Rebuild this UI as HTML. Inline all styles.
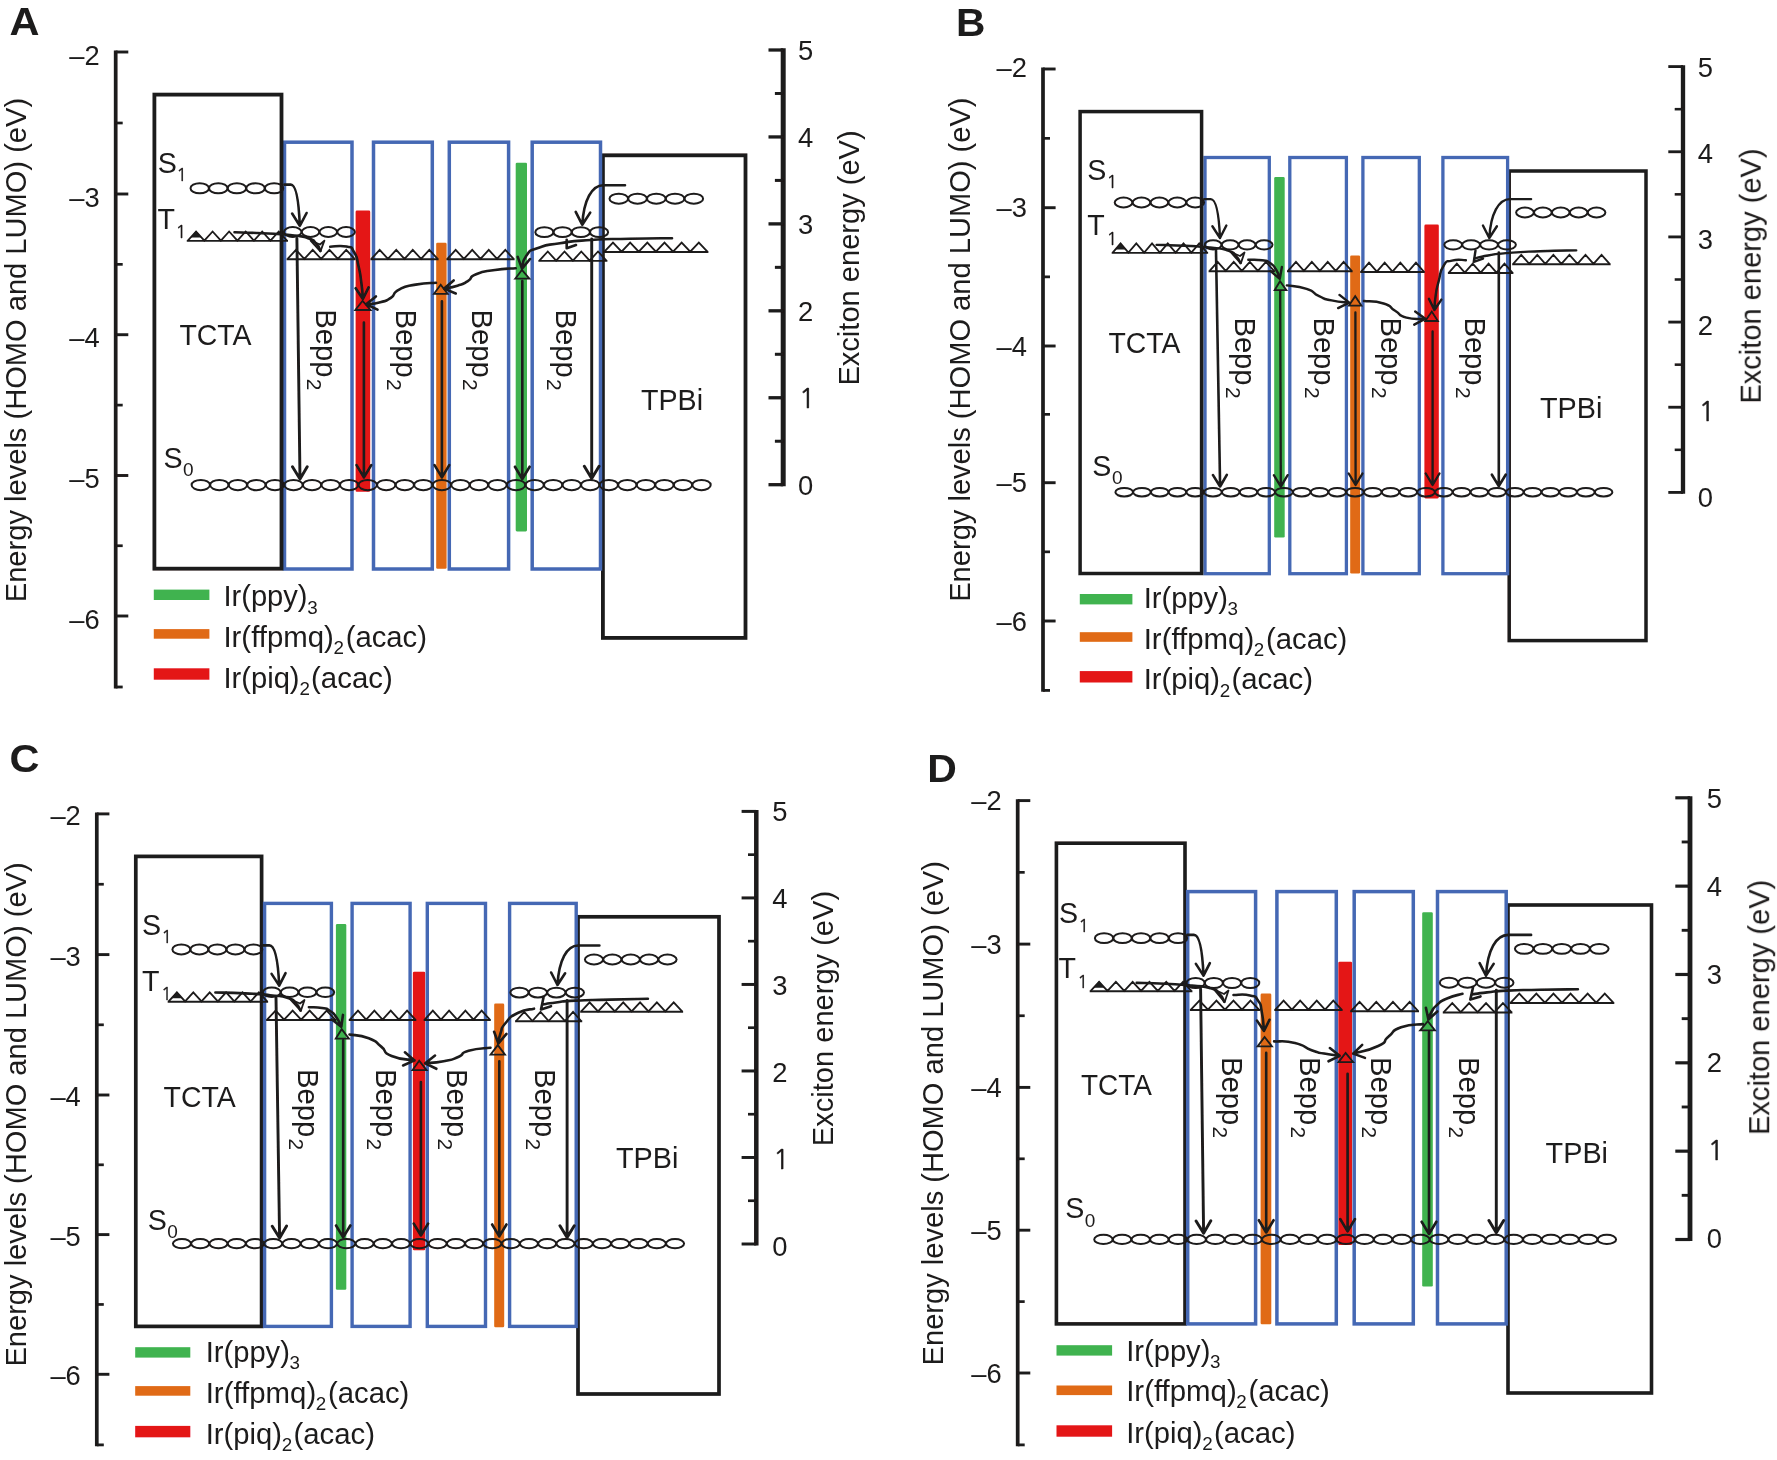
<!DOCTYPE html>
<html lang="en"><head><meta charset="utf-8"><title>Energy level diagrams</title>
<style>
html,body{margin:0;padding:0;background:#fff;}
svg{display:block;font-family:"Liberation Sans",Arial,Helvetica,sans-serif;fill:#1c1a1a;}
svg path,svg ellipse{fill:none;stroke:#1c1a1a;}
</style></head>
<body>
<svg width="1777" height="1460" viewBox="0 0 1777 1460">
<defs><filter id="soft" x="0" y="0" width="1777" height="1460" filterUnits="userSpaceOnUse"><feGaussianBlur stdDeviation="0.45"/></filter></defs>
<rect x="0" y="0" width="1777" height="1460" fill="#ffffff"/>
<g filter="url(#soft)">
<text x="9.6" y="35.2" font-size="38" font-weight="bold" textLength="30" lengthAdjust="spacingAndGlyphs">A</text>
<rect x="355.6" y="210.6" width="14.6" height="281.2" fill="#e41217" rx="1.3"/>
<rect x="436.2" y="242.8" width="10.4" height="326" fill="#e06a15" rx="1.3"/>
<rect x="515.7" y="162.8" width="11.3" height="368.6" fill="#3fb34f" rx="1.3"/>
<rect x="284.5" y="142.2" width="67.5" height="426.8" fill="none" stroke="#4468b4" stroke-width="3.5"/>
<rect x="373.5" y="142.2" width="58.8" height="426.8" fill="none" stroke="#4468b4" stroke-width="3.5"/>
<rect x="449.3" y="142.2" width="59.3" height="426.8" fill="none" stroke="#4468b4" stroke-width="3.5"/>
<rect x="154.4" y="94.6" width="127.1" height="474.1" fill="none" stroke="#1c1a1a" stroke-width="3.8"/>
<rect x="602.9" y="155.3" width="142.6" height="482.6" fill="none" stroke="#1c1a1a" stroke-width="3.8"/>
<rect x="532.2" y="142.2" width="68.3" height="426.8" fill="none" stroke="#4468b4" stroke-width="3.5"/>
<line x1="115.7" y1="50.6" x2="115.7" y2="688.4" stroke="#1c1a1a" stroke-width="3.7" stroke-linecap="butt"/>
<line x1="115.7" y1="52" x2="128.3" y2="52" stroke="#1c1a1a" stroke-width="2.9" stroke-linecap="butt"/>
<line x1="115.7" y1="194" x2="128.3" y2="194" stroke="#1c1a1a" stroke-width="2.9" stroke-linecap="butt"/>
<line x1="115.7" y1="334.7" x2="128.3" y2="334.7" stroke="#1c1a1a" stroke-width="2.9" stroke-linecap="butt"/>
<line x1="115.7" y1="475.5" x2="128.3" y2="475.5" stroke="#1c1a1a" stroke-width="2.9" stroke-linecap="butt"/>
<line x1="115.7" y1="616" x2="128.3" y2="616" stroke="#1c1a1a" stroke-width="2.9" stroke-linecap="butt"/>
<line x1="115.7" y1="123" x2="122.7" y2="123" stroke="#1c1a1a" stroke-width="2.7" stroke-linecap="butt"/>
<line x1="115.7" y1="264.35" x2="122.7" y2="264.35" stroke="#1c1a1a" stroke-width="2.7" stroke-linecap="butt"/>
<line x1="115.7" y1="405.1" x2="122.7" y2="405.1" stroke="#1c1a1a" stroke-width="2.7" stroke-linecap="butt"/>
<line x1="115.7" y1="545.75" x2="122.7" y2="545.75" stroke="#1c1a1a" stroke-width="2.7" stroke-linecap="butt"/>
<line x1="115.7" y1="687" x2="122.7" y2="687" stroke="#1c1a1a" stroke-width="2.8" stroke-linecap="butt"/>
<text x="99.7" y="64.7" font-size="27.2" text-anchor="end" textLength="30.4" lengthAdjust="spacingAndGlyphs">–2</text>
<text x="99.7" y="206.7" font-size="27.2" text-anchor="end" textLength="30.4" lengthAdjust="spacingAndGlyphs">–3</text>
<text x="99.7" y="347.4" font-size="27.2" text-anchor="end" textLength="30.4" lengthAdjust="spacingAndGlyphs">–4</text>
<text x="99.7" y="488.2" font-size="27.2" text-anchor="end" textLength="30.4" lengthAdjust="spacingAndGlyphs">–5</text>
<text x="99.7" y="628.7" font-size="27.2" text-anchor="end" textLength="30.4" lengthAdjust="spacingAndGlyphs">–6</text>
<line x1="783.2" y1="48.35" x2="783.2" y2="486.35" stroke="#1c1a1a" stroke-width="5" stroke-linecap="butt"/>
<line x1="768.5" y1="50" x2="783.2" y2="50" stroke="#1c1a1a" stroke-width="3.3" stroke-linecap="butt"/>
<line x1="768.5" y1="136.94" x2="783.2" y2="136.94" stroke="#1c1a1a" stroke-width="3.3" stroke-linecap="butt"/>
<line x1="768.5" y1="223.88" x2="783.2" y2="223.88" stroke="#1c1a1a" stroke-width="3.3" stroke-linecap="butt"/>
<line x1="768.5" y1="310.82" x2="783.2" y2="310.82" stroke="#1c1a1a" stroke-width="3.3" stroke-linecap="butt"/>
<line x1="768.5" y1="397.76" x2="783.2" y2="397.76" stroke="#1c1a1a" stroke-width="3.3" stroke-linecap="butt"/>
<line x1="768.5" y1="484.7" x2="783.2" y2="484.7" stroke="#1c1a1a" stroke-width="3.3" stroke-linecap="butt"/>
<line x1="774.9" y1="93.47" x2="783.2" y2="93.47" stroke="#1c1a1a" stroke-width="3" stroke-linecap="butt"/>
<line x1="774.9" y1="180.41" x2="783.2" y2="180.41" stroke="#1c1a1a" stroke-width="3" stroke-linecap="butt"/>
<line x1="774.9" y1="267.35" x2="783.2" y2="267.35" stroke="#1c1a1a" stroke-width="3" stroke-linecap="butt"/>
<line x1="774.9" y1="354.29" x2="783.2" y2="354.29" stroke="#1c1a1a" stroke-width="3" stroke-linecap="butt"/>
<line x1="774.9" y1="441.23" x2="783.2" y2="441.23" stroke="#1c1a1a" stroke-width="3" stroke-linecap="butt"/>
<text x="798" y="59.8" font-size="27.4">5</text>
<text x="798" y="146.74" font-size="27.4">4</text>
<text x="798" y="233.68" font-size="27.4">3</text>
<text x="798" y="320.62" font-size="27.4">2</text>
<text x="798.8" y="407.56" font-size="27.4" font-family="NanumGothic, Liberation Sans, sans-serif" stroke="#1c1a1a" stroke-width="0.45">1</text>
<text x="798" y="494.5" font-size="27.4">0</text>
<text x="25.9" y="602.2" font-size="29.3" transform="rotate(-90 25.9 602.2)" textLength="504.3" lengthAdjust="spacingAndGlyphs">Energy levels (HOMO and LUMO) (eV)</text>
<text x="859.4" y="385.6" font-size="29.3" transform="rotate(-90 859.4 385.6)" textLength="255.3" lengthAdjust="spacingAndGlyphs">Exciton energy (eV)</text>
<g fill="none" stroke="#1c1a1a" stroke-width="2">
<ellipse cx="199.7" cy="188.3" rx="9.2" ry="5.05"/>
<ellipse cx="218.3" cy="188.3" rx="9.2" ry="5.05"/>
<ellipse cx="236.9" cy="188.3" rx="9.2" ry="5.05"/>
<ellipse cx="255.5" cy="188.3" rx="9.2" ry="5.05"/>
<ellipse cx="274.1" cy="188.3" rx="9.2" ry="5.05"/>
<ellipse cx="292.7" cy="232" rx="8.8" ry="4.9"/>
<ellipse cx="310.5" cy="232" rx="8.8" ry="4.9"/>
<ellipse cx="328.3" cy="232" rx="8.8" ry="4.9"/>
<ellipse cx="346.1" cy="232" rx="8.8" ry="4.9"/>
<ellipse cx="544.33" cy="232.2" rx="9.03" ry="4.9"/>
<ellipse cx="562.58" cy="232.2" rx="9.03" ry="4.9"/>
<ellipse cx="580.83" cy="232.2" rx="9.03" ry="4.9"/>
<ellipse cx="599.08" cy="232.2" rx="9.03" ry="4.9"/>
<ellipse cx="618.78" cy="198.7" rx="9.28" ry="5"/>
<ellipse cx="637.54" cy="198.7" rx="9.28" ry="5"/>
<ellipse cx="656.3" cy="198.7" rx="9.28" ry="5"/>
<ellipse cx="675.06" cy="198.7" rx="9.28" ry="5"/>
<ellipse cx="693.82" cy="198.7" rx="9.28" ry="5"/>
<ellipse cx="200.77" cy="485.1" rx="9.17" ry="5.1"/>
<ellipse cx="219.32" cy="485.1" rx="9.17" ry="5.1"/>
<ellipse cx="237.87" cy="485.1" rx="9.17" ry="5.1"/>
<ellipse cx="256.41" cy="485.1" rx="9.17" ry="5.1"/>
<ellipse cx="274.96" cy="485.1" rx="9.17" ry="5.1"/>
<ellipse cx="293.51" cy="485.1" rx="9.17" ry="5.1"/>
<ellipse cx="312.05" cy="485.1" rx="9.17" ry="5.1"/>
<ellipse cx="330.6" cy="485.1" rx="9.17" ry="5.1"/>
<ellipse cx="349.14" cy="485.1" rx="9.17" ry="5.1"/>
<ellipse cx="367.69" cy="485.1" rx="9.17" ry="5.1"/>
<ellipse cx="386.24" cy="485.1" rx="9.17" ry="5.1"/>
<ellipse cx="404.78" cy="485.1" rx="9.17" ry="5.1"/>
<ellipse cx="423.33" cy="485.1" rx="9.17" ry="5.1"/>
<ellipse cx="441.88" cy="485.1" rx="9.17" ry="5.1"/>
<ellipse cx="460.42" cy="485.1" rx="9.17" ry="5.1"/>
<ellipse cx="478.97" cy="485.1" rx="9.17" ry="5.1"/>
<ellipse cx="497.52" cy="485.1" rx="9.17" ry="5.1"/>
<ellipse cx="516.06" cy="485.1" rx="9.17" ry="5.1"/>
<ellipse cx="534.61" cy="485.1" rx="9.17" ry="5.1"/>
<ellipse cx="553.16" cy="485.1" rx="9.17" ry="5.1"/>
<ellipse cx="571.7" cy="485.1" rx="9.17" ry="5.1"/>
<ellipse cx="590.25" cy="485.1" rx="9.17" ry="5.1"/>
<ellipse cx="608.79" cy="485.1" rx="9.17" ry="5.1"/>
<ellipse cx="627.34" cy="485.1" rx="9.17" ry="5.1"/>
<ellipse cx="645.89" cy="485.1" rx="9.17" ry="5.1"/>
<ellipse cx="664.43" cy="485.1" rx="9.17" ry="5.1"/>
<ellipse cx="682.98" cy="485.1" rx="9.17" ry="5.1"/>
<ellipse cx="701.53" cy="485.1" rx="9.17" ry="5.1"/>
<path d="M186.8 240.9H288" stroke-width="1.9"/>
<path d="M187.8 240.6L196.07 231.5L204.33 240.6L212.6 231.5L220.87 240.6L229.13 231.5L237.4 240.6L245.67 231.5L253.93 240.6L262.2 231.5L270.47 240.6L278.73 231.5L287 240.6" stroke-width="1.8" stroke-linejoin="miter"/>
<path d="M190.61 237.52L196.07 230.7L201.52 237.52Z" style="fill:#1c1a1a;stroke:none"/>
<path d="M286.6 259.2H355.6" stroke-width="1.9"/>
<path d="M287.6 258.9L295.97 249.8L304.35 258.9L312.72 249.8L321.1 258.9L329.48 249.8L337.85 258.9L346.23 249.8L354.6 258.9" stroke-width="1.8" stroke-linejoin="miter"/>
<path d="M370.4 259.2H438.6" stroke-width="1.9"/>
<path d="M371.4 258.9L379.67 249.8L387.95 258.9L396.23 249.8L404.5 258.9L412.77 249.8L421.05 258.9L429.33 249.8L437.6 258.9" stroke-width="1.8" stroke-linejoin="miter"/>
<path d="M446.4 259.2H514.6" stroke-width="1.9"/>
<path d="M447.4 258.9L455.67 249.8L463.95 258.9L472.23 249.8L480.5 258.9L488.77 249.8L497.05 258.9L505.33 249.8L513.6 258.9" stroke-width="1.8" stroke-linejoin="miter"/>
<path d="M538.4 260.9H607.4" stroke-width="1.9"/>
<path d="M539.4 260.6L547.77 251.5L556.15 260.6L564.52 251.5L572.9 260.6L581.27 251.5L589.65 260.6L598.02 251.5L606.4 260.6" stroke-width="1.8" stroke-linejoin="miter"/>
<path d="M603.4 252H708.4" stroke-width="1.9"/>
<path d="M604.4 251.7L612.98 242.6L621.57 251.7L630.15 242.6L638.73 251.7L647.32 242.6L655.9 251.7L664.48 242.6L673.07 251.7L681.65 242.6L690.23 251.7L698.82 242.6L707.4 251.7" stroke-width="1.8" stroke-linejoin="miter"/>
<path d="M355.3 310L362.6 300.8L370.6 310Z" stroke-width="1.8"/>
<path d="M434 293.8L440.7 284.7L447.6 293.8Z" stroke-width="1.8"/>
<path d="M515.2 278.7L521.9 270L529.4 278.7Z" stroke-width="1.8"/>
<path d="M296.9 238.5L300 479M292.48 466.84L300 479L307.21 466.65" stroke-width="2.9" stroke-linecap="round" stroke-linejoin="round"/>
<path d="M363.9 322.5L363.9 477.4M356.53 465.14L363.9 477.4L371.27 465.14" stroke-width="2.6" stroke-linecap="round" stroke-linejoin="round"/>
<path d="M441.9 301.2L441.9 477.4M434.53 465.14L441.9 477.4L449.27 465.14" stroke-width="2.6" stroke-linecap="round" stroke-linejoin="round"/>
<path d="M522.3 281L522.3 479M514.93 466.74L522.3 479L529.67 466.74" stroke-width="2.6" stroke-linecap="round" stroke-linejoin="round"/>
<path d="M591.7 239L591.7 478.6M584.33 466.34L591.7 478.6L599.07 466.34" stroke-width="2.9" stroke-linecap="round" stroke-linejoin="round"/>
<path d="M284.5 184.6L290.8 184.6C295.5 184.6 298.6 196.03 299.8 225.8M292.12 213.5L299.8 225.8L306.61 213" stroke-width="2.6" stroke-linecap="round" stroke-linejoin="round"/>
<path d="M625 185.2L603.31 185.2C591.93 185.2 583.66 199.92 582.3 224.8M575.72 211.88L582.3 224.8L590.2 212.64" stroke-width="2.6" stroke-linecap="round" stroke-linejoin="round"/>
<path d="M234.5 232.3C243.67 232.6 243.5 232.3 262 233.2C280.5 234.1 274.67 233.33 290 235C305.33 236.67 299.33 235.37 308 238.2C316.67 241.03 311.83 239.23 316 243.5C320.17 247.77 319 248.5 320.5 251" stroke-width="2.6" stroke-linecap="round" stroke-linejoin="round"/>
<path d="M330.2 246.8C335.63 246.73 338.57 244.87 346.5 246.6C354.43 248.33 350 245.53 354 252C358 258.47 356 255.33 358.5 266C361 276.67 360.03 273 361.5 284C362.97 295 362.43 294 362.9 299M355.63 288.22L362.9 299L368.6 287.32" stroke-width="2.6" stroke-linecap="round" stroke-linejoin="round"/>
<path d="M672 238.2C658 238.4 657 238.2 630 238.8C603 239.4 614.33 238.53 591 240C567.67 241.47 577.67 240.53 560 243.2C542.33 245.87 549.17 243.9 538 248C526.83 252.1 531.83 248.63 526.5 255.5C521.17 262.37 523.5 264.23 522 268.6M517.72 256.85L522 268.6L530.03 259.02" stroke-width="2.6" stroke-linecap="round" stroke-linejoin="round"/>
<path d="M515.7 268.3C508.8 268.87 508.2 268 495 270C481.8 272 485.17 270.57 476.1 274.3C467.03 278.03 474.03 277.37 467.8 281.2C461.57 285.03 465.27 283.33 457.4 285.8C449.53 288.27 448.6 287.67 444.2 288.6M453.63 280.4L444.2 288.6L455.71 293.48" stroke-width="2.6" stroke-linecap="round" stroke-linejoin="round"/>
<path d="M436 282.8C429.23 283.4 428 282.33 415.7 284.6C403.4 286.87 407.4 285.2 399.1 289.6C390.8 294 397.07 293.6 390.8 297.8C384.53 302 388.5 300.03 380.3 302.2C372.1 304.37 370.9 303.6 366.2 304.3M375.91 296.43L366.2 304.3L377.53 309.58" stroke-width="2.6" stroke-linecap="round" stroke-linejoin="round"/>
<path d="M566.7 239.8C566.7 239.8 566.7 248.3 566.7 248.3C566.7 248.3 576 245 576 245" stroke-width="2.6" stroke-linecap="round" stroke-linejoin="round"/>
<path d="M310.6 240.6L320.4 251.4L324.4 240.6L320 244.5 Z" fill="none" stroke-width="1.8" stroke-linejoin="round"/>
</g>
<text x="157.8" y="172.7" font-size="28.6">S<tspan x="176.3" dy="8" font-size="18" font-family="NanumGothic, Liberation Sans, sans-serif" stroke="#1c1a1a" stroke-width="0.3">1</tspan></text>
<text x="157.6" y="228.5" font-size="28.6">T<tspan x="175.5" dy="9" font-size="18" font-family="NanumGothic, Liberation Sans, sans-serif" stroke="#1c1a1a" stroke-width="0.3">1</tspan></text>
<text x="163.6" y="467.5" font-size="28.6">S<tspan x="183" dy="8.5" font-size="19">0</tspan></text>
<text x="179.4" y="345.2" font-size="28.6" textLength="72.2" lengthAdjust="spacingAndGlyphs">TCTA</text>
<text x="641" y="409.5" font-size="28.6" textLength="62" lengthAdjust="spacingAndGlyphs">TPBi</text>
<text transform="translate(316 309.2) rotate(90)" font-size="29" textLength="68.2" lengthAdjust="spacingAndGlyphs">Bepp</text>
<text transform="translate(306.8 378.7) rotate(90)" font-size="20.8">2</text>
<text transform="translate(396.3 309.6) rotate(90)" font-size="29" textLength="68.2" lengthAdjust="spacingAndGlyphs">Bepp</text>
<text transform="translate(387.1 379.1) rotate(90)" font-size="20.8">2</text>
<text transform="translate(471.8 309.6) rotate(90)" font-size="29" textLength="68.2" lengthAdjust="spacingAndGlyphs">Bepp</text>
<text transform="translate(462.6 379.1) rotate(90)" font-size="20.8">2</text>
<text transform="translate(556.1 309.6) rotate(90)" font-size="29" textLength="68.2" lengthAdjust="spacingAndGlyphs">Bepp</text>
<text transform="translate(546.9 379.1) rotate(90)" font-size="20.8">2</text>
<rect x="153.8" y="589.6" width="55.6" height="10.4" fill="#3fb34f"/>
<rect x="153.8" y="629.1" width="55.6" height="9.6" fill="#e06a15"/>
<rect x="153.8" y="668.3" width="55.6" height="11.4" fill="#e41217"/>
<text x="223.4" y="606.3" font-size="28.6" textLength="84.2" lengthAdjust="spacingAndGlyphs">Ir(ppy)</text>
<text x="307.3" y="613.5" font-size="18.8">3</text>
<text x="223.4" y="647.2" font-size="28.6" textLength="110.5" lengthAdjust="spacingAndGlyphs">Ir(ffpmq)</text>
<text x="333.4" y="654.4" font-size="18.8">2</text>
<text x="345.7" y="647.2" font-size="28.6" textLength="81.3" lengthAdjust="spacingAndGlyphs">(acac)</text>
<text x="223.4" y="688.2" font-size="28.6" textLength="76.2" lengthAdjust="spacingAndGlyphs">Ir(piq)</text>
<text x="299.4" y="695.4" font-size="18.8">2</text>
<text x="311.1" y="688.2" font-size="28.6" textLength="81.6" lengthAdjust="spacingAndGlyphs">(acac)</text>
<text x="956" y="36.3" font-size="38" font-weight="bold" textLength="29.4" lengthAdjust="spacingAndGlyphs">B</text>
<rect x="1274.2" y="177.1" width="10.5" height="360.5" fill="#3fb34f" rx="1.3"/>
<rect x="1350.2" y="255.5" width="9.9" height="318.1" fill="#e06a15" rx="1.3"/>
<rect x="1424.4" y="224.6" width="14.4" height="273.8" fill="#e41217" rx="1.3"/>
<rect x="1205" y="157.5" width="64.3" height="416.2" fill="none" stroke="#4468b4" stroke-width="3.3"/>
<rect x="1289.8" y="157.5" width="56.6" height="416.2" fill="none" stroke="#4468b4" stroke-width="3.3"/>
<rect x="1362.9" y="157.5" width="56.4" height="416.2" fill="none" stroke="#4468b4" stroke-width="3.3"/>
<rect x="1080.1" y="111.6" width="121.5" height="461.9" fill="none" stroke="#1c1a1a" stroke-width="3.5"/>
<rect x="1509.2" y="171" width="136.8" height="469.6" fill="none" stroke="#1c1a1a" stroke-width="3.5"/>
<rect x="1442.9" y="157.5" width="64.7" height="416.2" fill="none" stroke="#4468b4" stroke-width="3.3"/>
<line x1="1043" y1="67.6" x2="1043" y2="691.8" stroke="#1c1a1a" stroke-width="3.7" stroke-linecap="butt"/>
<line x1="1043" y1="69" x2="1055.6" y2="69" stroke="#1c1a1a" stroke-width="2.9" stroke-linecap="butt"/>
<line x1="1043" y1="207.7" x2="1055.6" y2="207.7" stroke="#1c1a1a" stroke-width="2.9" stroke-linecap="butt"/>
<line x1="1043" y1="346" x2="1055.6" y2="346" stroke="#1c1a1a" stroke-width="2.9" stroke-linecap="butt"/>
<line x1="1043" y1="482.7" x2="1055.6" y2="482.7" stroke="#1c1a1a" stroke-width="2.9" stroke-linecap="butt"/>
<line x1="1043" y1="621" x2="1055.6" y2="621" stroke="#1c1a1a" stroke-width="2.9" stroke-linecap="butt"/>
<line x1="1043" y1="138.35" x2="1050" y2="138.35" stroke="#1c1a1a" stroke-width="2.7" stroke-linecap="butt"/>
<line x1="1043" y1="276.85" x2="1050" y2="276.85" stroke="#1c1a1a" stroke-width="2.7" stroke-linecap="butt"/>
<line x1="1043" y1="414.35" x2="1050" y2="414.35" stroke="#1c1a1a" stroke-width="2.7" stroke-linecap="butt"/>
<line x1="1043" y1="551.85" x2="1050" y2="551.85" stroke="#1c1a1a" stroke-width="2.7" stroke-linecap="butt"/>
<line x1="1043" y1="690.4" x2="1050" y2="690.4" stroke="#1c1a1a" stroke-width="2.8" stroke-linecap="butt"/>
<text x="1027" y="77.1" font-size="27.2" text-anchor="end" textLength="30.4" lengthAdjust="spacingAndGlyphs">–2</text>
<text x="1027" y="217.4" font-size="27.2" text-anchor="end" textLength="30.4" lengthAdjust="spacingAndGlyphs">–3</text>
<text x="1027" y="355.7" font-size="27.2" text-anchor="end" textLength="30.4" lengthAdjust="spacingAndGlyphs">–4</text>
<text x="1027" y="492.4" font-size="27.2" text-anchor="end" textLength="30.4" lengthAdjust="spacingAndGlyphs">–5</text>
<text x="1027" y="630.7" font-size="27.2" text-anchor="end" textLength="30.4" lengthAdjust="spacingAndGlyphs">–6</text>
<line x1="1683" y1="65.18" x2="1683" y2="493.82" stroke="#1c1a1a" stroke-width="4.3" stroke-linecap="butt"/>
<line x1="1668.3" y1="66.6" x2="1683" y2="66.6" stroke="#1c1a1a" stroke-width="2.84" stroke-linecap="butt"/>
<line x1="1668.3" y1="151.76" x2="1683" y2="151.76" stroke="#1c1a1a" stroke-width="2.84" stroke-linecap="butt"/>
<line x1="1668.3" y1="236.92" x2="1683" y2="236.92" stroke="#1c1a1a" stroke-width="2.84" stroke-linecap="butt"/>
<line x1="1668.3" y1="322.08" x2="1683" y2="322.08" stroke="#1c1a1a" stroke-width="2.84" stroke-linecap="butt"/>
<line x1="1668.3" y1="407.24" x2="1683" y2="407.24" stroke="#1c1a1a" stroke-width="2.84" stroke-linecap="butt"/>
<line x1="1668.3" y1="492.4" x2="1683" y2="492.4" stroke="#1c1a1a" stroke-width="2.84" stroke-linecap="butt"/>
<line x1="1674.7" y1="109.18" x2="1683" y2="109.18" stroke="#1c1a1a" stroke-width="2.54" stroke-linecap="butt"/>
<line x1="1674.7" y1="194.34" x2="1683" y2="194.34" stroke="#1c1a1a" stroke-width="2.54" stroke-linecap="butt"/>
<line x1="1674.7" y1="279.5" x2="1683" y2="279.5" stroke="#1c1a1a" stroke-width="2.54" stroke-linecap="butt"/>
<line x1="1674.7" y1="364.66" x2="1683" y2="364.66" stroke="#1c1a1a" stroke-width="2.54" stroke-linecap="butt"/>
<line x1="1674.7" y1="449.82" x2="1683" y2="449.82" stroke="#1c1a1a" stroke-width="2.54" stroke-linecap="butt"/>
<text x="1697.8" y="76.6" font-size="27.4">5</text>
<text x="1697.8" y="162.58" font-size="27.4">4</text>
<text x="1697.8" y="248.56" font-size="27.4">3</text>
<text x="1697.8" y="334.54" font-size="27.4">2</text>
<text x="1698.6" y="420.52" font-size="27.4" font-family="NanumGothic, Liberation Sans, sans-serif" stroke="#1c1a1a" stroke-width="0.45">1</text>
<text x="1697.8" y="506.5" font-size="27.4">0</text>
<text x="970.2" y="601.8" font-size="29.3" transform="rotate(-90 970.2 601.8)" textLength="504.3" lengthAdjust="spacingAndGlyphs">Energy levels (HOMO and LUMO) (eV)</text>
<text x="1760.4" y="403.7" font-size="29.3" transform="rotate(-90 1760.4 403.7)" textLength="255.3" lengthAdjust="spacingAndGlyphs">Exciton energy (eV)</text>
<g fill="none" stroke="#1c1a1a" stroke-width="2">
<ellipse cx="1123.56" cy="202.5" rx="8.86" ry="4.9"/>
<ellipse cx="1141.48" cy="202.5" rx="8.86" ry="4.9"/>
<ellipse cx="1159.4" cy="202.5" rx="8.86" ry="4.9"/>
<ellipse cx="1177.32" cy="202.5" rx="8.86" ry="4.9"/>
<ellipse cx="1195.24" cy="202.5" rx="8.86" ry="4.9"/>
<ellipse cx="1213.1" cy="244.8" rx="8.4" ry="4.6"/>
<ellipse cx="1230.1" cy="244.8" rx="8.4" ry="4.6"/>
<ellipse cx="1247.1" cy="244.8" rx="8.4" ry="4.6"/>
<ellipse cx="1264.1" cy="244.8" rx="8.4" ry="4.6"/>
<ellipse cx="1453.17" cy="244.8" rx="8.87" ry="4.6"/>
<ellipse cx="1471.12" cy="244.8" rx="8.87" ry="4.6"/>
<ellipse cx="1489.08" cy="244.8" rx="8.87" ry="4.6"/>
<ellipse cx="1507.03" cy="244.8" rx="8.87" ry="4.6"/>
<ellipse cx="1524.95" cy="212.5" rx="8.85" ry="4.9"/>
<ellipse cx="1542.85" cy="212.5" rx="8.85" ry="4.9"/>
<ellipse cx="1560.75" cy="212.5" rx="8.85" ry="4.9"/>
<ellipse cx="1578.65" cy="212.5" rx="8.85" ry="4.9"/>
<ellipse cx="1596.55" cy="212.5" rx="8.85" ry="4.9"/>
<ellipse cx="1124.18" cy="492.2" rx="8.78" ry="4.3"/>
<ellipse cx="1141.94" cy="492.2" rx="8.78" ry="4.3"/>
<ellipse cx="1159.69" cy="492.2" rx="8.78" ry="4.3"/>
<ellipse cx="1177.45" cy="492.2" rx="8.78" ry="4.3"/>
<ellipse cx="1195.21" cy="492.2" rx="8.78" ry="4.3"/>
<ellipse cx="1212.96" cy="492.2" rx="8.78" ry="4.3"/>
<ellipse cx="1230.72" cy="492.2" rx="8.78" ry="4.3"/>
<ellipse cx="1248.48" cy="492.2" rx="8.78" ry="4.3"/>
<ellipse cx="1266.24" cy="492.2" rx="8.78" ry="4.3"/>
<ellipse cx="1283.99" cy="492.2" rx="8.78" ry="4.3"/>
<ellipse cx="1301.75" cy="492.2" rx="8.78" ry="4.3"/>
<ellipse cx="1319.51" cy="492.2" rx="8.78" ry="4.3"/>
<ellipse cx="1337.26" cy="492.2" rx="8.78" ry="4.3"/>
<ellipse cx="1355.02" cy="492.2" rx="8.78" ry="4.3"/>
<ellipse cx="1372.78" cy="492.2" rx="8.78" ry="4.3"/>
<ellipse cx="1390.54" cy="492.2" rx="8.78" ry="4.3"/>
<ellipse cx="1408.29" cy="492.2" rx="8.78" ry="4.3"/>
<ellipse cx="1426.05" cy="492.2" rx="8.78" ry="4.3"/>
<ellipse cx="1443.81" cy="492.2" rx="8.78" ry="4.3"/>
<ellipse cx="1461.56" cy="492.2" rx="8.78" ry="4.3"/>
<ellipse cx="1479.32" cy="492.2" rx="8.78" ry="4.3"/>
<ellipse cx="1497.08" cy="492.2" rx="8.78" ry="4.3"/>
<ellipse cx="1514.84" cy="492.2" rx="8.78" ry="4.3"/>
<ellipse cx="1532.59" cy="492.2" rx="8.78" ry="4.3"/>
<ellipse cx="1550.35" cy="492.2" rx="8.78" ry="4.3"/>
<ellipse cx="1568.11" cy="492.2" rx="8.78" ry="4.3"/>
<ellipse cx="1585.86" cy="492.2" rx="8.78" ry="4.3"/>
<ellipse cx="1603.62" cy="492.2" rx="8.78" ry="4.3"/>
<path d="M1111.7 252.9H1208.1" stroke-width="1.9"/>
<path d="M1112.7 252.6L1120.57 243.5L1128.43 252.6L1136.3 243.5L1144.17 252.6L1152.03 243.5L1159.9 252.6L1167.77 243.5L1175.63 252.6L1183.5 243.5L1191.37 252.6L1199.23 243.5L1207.1 252.6" stroke-width="1.8" stroke-linejoin="miter"/>
<path d="M1115.37 249.52L1120.57 242.7L1125.76 249.52Z" style="fill:#1c1a1a;stroke:none"/>
<path d="M1208.6 271.2H1275" stroke-width="1.9"/>
<path d="M1209.6 270.9L1217.65 261.8L1225.7 270.9L1233.75 261.8L1241.8 270.9L1249.85 261.8L1257.9 270.9L1265.95 261.8L1274 270.9" stroke-width="1.8" stroke-linejoin="miter"/>
<path d="M1287 271.2H1352.6" stroke-width="1.9"/>
<path d="M1288 270.9L1295.95 261.8L1303.9 270.9L1311.85 261.8L1319.8 270.9L1327.75 261.8L1335.7 270.9L1343.65 261.8L1351.6 270.9" stroke-width="1.8" stroke-linejoin="miter"/>
<path d="M1360.2 272H1424.8" stroke-width="1.9"/>
<path d="M1361.2 271.7L1369.03 262.6L1376.85 271.7L1384.67 262.6L1392.5 271.7L1400.33 262.6L1408.15 271.7L1415.97 262.6L1423.8 271.7" stroke-width="1.8" stroke-linejoin="miter"/>
<path d="M1447.9 273H1513.4" stroke-width="1.9"/>
<path d="M1448.9 272.7L1456.84 263.6L1464.78 272.7L1472.71 263.6L1480.65 272.7L1488.59 263.6L1496.52 272.7L1504.46 263.6L1512.4 272.7" stroke-width="1.8" stroke-linejoin="miter"/>
<path d="M1512.2 264.2H1610.6" stroke-width="1.9"/>
<path d="M1513.2 263.9L1521.23 254.8L1529.27 263.9L1537.3 254.8L1545.33 263.9L1553.37 254.8L1561.4 263.9L1569.43 254.8L1577.47 263.9L1585.5 254.8L1593.53 263.9L1601.57 254.8L1609.6 263.9" stroke-width="1.8" stroke-linejoin="miter"/>
<path d="M1274.6 290.2L1280 281.2L1286.4 290.2Z" stroke-width="1.8"/>
<path d="M1349 305.6L1355.2 296.2L1361.4 305.6Z" stroke-width="1.8"/>
<path d="M1425.3 321L1431.8 311.6L1437.9 321Z" stroke-width="1.8"/>
<path d="M1216 250.4L1220.1 486.5M1213 475.14L1220.1 486.5L1226.8 474.9" stroke-width="2.6" stroke-linecap="round" stroke-linejoin="round"/>
<path d="M1280.2 291.5L1280.8 486.6M1273.86 475.14L1280.8 486.6L1287.67 475.09" stroke-width="2.3" stroke-linecap="round" stroke-linejoin="round"/>
<path d="M1355.4 312.4L1355.6 485M1348.69 473.52L1355.6 485L1362.49 473.51" stroke-width="2.3" stroke-linecap="round" stroke-linejoin="round"/>
<path d="M1432.6 331.5L1432.6 485M1425.7 473.51L1432.6 485L1439.5 473.51" stroke-width="2.3" stroke-linecap="round" stroke-linejoin="round"/>
<path d="M1498.8 252.5L1498.8 486.2M1491.9 474.71L1498.8 486.2L1505.7 474.71" stroke-width="2.6" stroke-linecap="round" stroke-linejoin="round"/>
<path d="M1204.2 199.1L1210.71 199.1C1215.56 199.1 1218.76 209.89 1220 238M1212.38 226.26L1220 238L1226.36 225.53" stroke-width="2.4" stroke-linecap="round" stroke-linejoin="round"/>
<path d="M1531.1 199.1L1509.87 199.1C1498.73 199.1 1490.63 213.56 1489.3 238M1482.94 225.53L1489.3 238L1496.92 226.26" stroke-width="2.4" stroke-linecap="round" stroke-linejoin="round"/>
<path d="M1156.6 244.9C1166.07 245.2 1167.2 244.93 1185 245.8C1202.8 246.67 1195.67 245.9 1210 247.5C1224.33 249.1 1219.33 247.77 1228 250.6C1236.67 253.43 1231.83 251.87 1236 256C1240.17 260.13 1239 260.67 1240.5 263" stroke-width="2.4" stroke-linecap="round" stroke-linejoin="round"/>
<path d="M1248.3 259.8C1252.87 259.97 1254.77 259.23 1262 260.3C1269.23 261.37 1265.33 259.93 1270 263C1274.67 266.07 1272.73 264.23 1276 269.5C1279.27 274.77 1278.53 275.7 1279.8 278.8M1270.61 271.09L1279.8 278.8L1281.88 266.98" stroke-width="2.4" stroke-linecap="round" stroke-linejoin="round"/>
<path d="M1576.2 250.4C1564.13 250.67 1562.97 250.33 1540 251.2C1517.03 252.07 1524.63 251.57 1507.3 253C1489.97 254.43 1498.87 253.67 1488 255.5C1477.13 257.33 1479.13 257.5 1474.7 258.5" stroke-width="2.4" stroke-linecap="round" stroke-linejoin="round"/>
<path d="M1475.5 250.5C1475.5 250.5 1473.8 261.8 1473.8 261.8C1473.8 261.8 1483 258.6 1483 258.6" stroke-width="2.4" stroke-linecap="round" stroke-linejoin="round"/>
<path d="M1465.9 260.2C1461.27 260.33 1459.47 258.67 1452 260.6C1444.53 262.53 1447.97 259 1443.5 266C1439.03 273 1441.23 271.6 1438.6 281.6C1435.97 291.6 1437 286.53 1435.6 296C1434.2 305.47 1434.8 305.33 1434.4 310M1428.92 298.77L1434.4 310L1441.39 299.64" stroke-width="2.4" stroke-linecap="round" stroke-linejoin="round"/>
<path d="M1286.8 285.4C1293.4 286.57 1295.83 285.3 1306.6 288.9C1317.37 292.5 1310.77 292.37 1319.1 296.2C1327.43 300.03 1321.53 298.27 1331.6 300.4C1341.67 302.53 1343.4 301.87 1349.3 302.6M1338.07 308.08L1349.3 302.6L1339.45 294.9" stroke-width="2.4" stroke-linecap="round" stroke-linejoin="round"/>
<path d="M1363.9 301C1370.47 301.83 1373.2 300.23 1383.6 303.5C1394 306.77 1387.47 306.1 1395.1 310.8C1402.73 315.5 1396.43 314.93 1406.5 317.6C1416.57 320.27 1419.03 318.4 1425.3 318.8M1414.26 324.67L1425.3 318.8L1415.19 311.45" stroke-width="2.4" stroke-linecap="round" stroke-linejoin="round"/>
<path d="M1230.5 252L1240.8 263.4L1244.5 252.5L1240 256 Z" fill="none" stroke-width="1.8" stroke-linejoin="round"/>
</g>
<text x="1087.2" y="179.9" font-size="28.6">S<tspan x="1106.5" dy="8.5" font-size="18" font-family="NanumGothic, Liberation Sans, sans-serif" stroke="#1c1a1a" stroke-width="0.3">1</tspan></text>
<text x="1087.2" y="235.4" font-size="28.6">T<tspan x="1106.5" dy="9.5" font-size="18" font-family="NanumGothic, Liberation Sans, sans-serif" stroke="#1c1a1a" stroke-width="0.3">1</tspan></text>
<text x="1092.2" y="476" font-size="28.6">S<tspan x="1112" dy="8" font-size="19">0</tspan></text>
<text x="1108.4" y="352.6" font-size="28.6" textLength="72" lengthAdjust="spacingAndGlyphs">TCTA</text>
<text x="1540" y="417.6" font-size="28.6" textLength="62.4" lengthAdjust="spacingAndGlyphs">TPBi</text>
<text transform="translate(1234.8 317.4) rotate(90)" font-size="29" textLength="68.2" lengthAdjust="spacingAndGlyphs">Bepp</text>
<text transform="translate(1225.6 386.9) rotate(90)" font-size="20.8">2</text>
<text transform="translate(1314.1 317.4) rotate(90)" font-size="29" textLength="68.2" lengthAdjust="spacingAndGlyphs">Bepp</text>
<text transform="translate(1304.9 386.9) rotate(90)" font-size="20.8">2</text>
<text transform="translate(1380.7 317.4) rotate(90)" font-size="29" textLength="68.2" lengthAdjust="spacingAndGlyphs">Bepp</text>
<text transform="translate(1371.5 386.9) rotate(90)" font-size="20.8">2</text>
<text transform="translate(1464.9 317.4) rotate(90)" font-size="29" textLength="68.2" lengthAdjust="spacingAndGlyphs">Bepp</text>
<text transform="translate(1455.7 386.9) rotate(90)" font-size="20.8">2</text>
<rect x="1079.8" y="594" width="52.6" height="10.4" fill="#3fb34f"/>
<rect x="1079.8" y="632.2" width="52.6" height="9.6" fill="#e06a15"/>
<rect x="1079.8" y="671.1" width="52.6" height="11.4" fill="#e41217"/>
<text x="1143.7" y="607.9" font-size="28.6" textLength="84.2" lengthAdjust="spacingAndGlyphs">Ir(ppy)</text>
<text x="1227.6" y="615.1" font-size="18.8">3</text>
<text x="1143.7" y="649.2" font-size="28.6" textLength="110.5" lengthAdjust="spacingAndGlyphs">Ir(ffpmq)</text>
<text x="1253.7" y="656.4" font-size="18.8">2</text>
<text x="1266" y="649.2" font-size="28.6" textLength="81.3" lengthAdjust="spacingAndGlyphs">(acac)</text>
<text x="1143.7" y="689.3" font-size="28.6" textLength="76.2" lengthAdjust="spacingAndGlyphs">Ir(piq)</text>
<text x="1219.7" y="696.5" font-size="18.8">2</text>
<text x="1231.4" y="689.3" font-size="28.6" textLength="81.6" lengthAdjust="spacingAndGlyphs">(acac)</text>
<text x="9.4" y="771.8" font-size="38" font-weight="bold" textLength="30" lengthAdjust="spacingAndGlyphs">C</text>
<rect x="335.9" y="924.1" width="10.4" height="365.7" fill="#3fb34f" rx="1.3"/>
<rect x="412.9" y="971.7" width="12.3" height="278.5" fill="#e41217" rx="1.3"/>
<rect x="494.2" y="1003.4" width="10" height="323.8" fill="#e06a15" rx="1.3"/>
<rect x="352.1" y="903.4" width="58" height="423" fill="none" stroke="#4468b4" stroke-width="3.4"/>
<rect x="427.3" y="903.4" width="58.2" height="423" fill="none" stroke="#4468b4" stroke-width="3.4"/>
<rect x="135.8" y="856.4" width="125.8" height="470" fill="none" stroke="#1c1a1a" stroke-width="3.7"/>
<rect x="578" y="916.8" width="141" height="477.2" fill="none" stroke="#1c1a1a" stroke-width="3.7"/>
<rect x="264.6" y="903.4" width="66.8" height="423" fill="none" stroke="#4468b4" stroke-width="3.4"/>
<rect x="509.6" y="903.4" width="66.6" height="423" fill="none" stroke="#4468b4" stroke-width="3.4"/>
<line x1="96.8" y1="812.5" x2="96.8" y2="1446.3" stroke="#1c1a1a" stroke-width="3.7" stroke-linecap="butt"/>
<line x1="96.8" y1="813.9" x2="109.4" y2="813.9" stroke="#1c1a1a" stroke-width="2.9" stroke-linecap="butt"/>
<line x1="96.8" y1="954.6" x2="109.4" y2="954.6" stroke="#1c1a1a" stroke-width="2.9" stroke-linecap="butt"/>
<line x1="96.8" y1="1095" x2="109.4" y2="1095" stroke="#1c1a1a" stroke-width="2.9" stroke-linecap="butt"/>
<line x1="96.8" y1="1234.6" x2="109.4" y2="1234.6" stroke="#1c1a1a" stroke-width="2.9" stroke-linecap="butt"/>
<line x1="96.8" y1="1374.3" x2="109.4" y2="1374.3" stroke="#1c1a1a" stroke-width="2.9" stroke-linecap="butt"/>
<line x1="96.8" y1="884.25" x2="103.8" y2="884.25" stroke="#1c1a1a" stroke-width="2.7" stroke-linecap="butt"/>
<line x1="96.8" y1="1024.8" x2="103.8" y2="1024.8" stroke="#1c1a1a" stroke-width="2.7" stroke-linecap="butt"/>
<line x1="96.8" y1="1164.8" x2="103.8" y2="1164.8" stroke="#1c1a1a" stroke-width="2.7" stroke-linecap="butt"/>
<line x1="96.8" y1="1304.45" x2="103.8" y2="1304.45" stroke="#1c1a1a" stroke-width="2.7" stroke-linecap="butt"/>
<line x1="96.8" y1="1444.9" x2="103.8" y2="1444.9" stroke="#1c1a1a" stroke-width="2.8" stroke-linecap="butt"/>
<text x="80.8" y="824.9" font-size="27.2" text-anchor="end" textLength="30.4" lengthAdjust="spacingAndGlyphs">–2</text>
<text x="80.8" y="965.6" font-size="27.2" text-anchor="end" textLength="30.4" lengthAdjust="spacingAndGlyphs">–3</text>
<text x="80.8" y="1106" font-size="27.2" text-anchor="end" textLength="30.4" lengthAdjust="spacingAndGlyphs">–4</text>
<text x="80.8" y="1245.6" font-size="27.2" text-anchor="end" textLength="30.4" lengthAdjust="spacingAndGlyphs">–5</text>
<text x="80.8" y="1385.3" font-size="27.2" text-anchor="end" textLength="30.4" lengthAdjust="spacingAndGlyphs">–6</text>
<line x1="756.3" y1="809.91" x2="756.3" y2="1245.48" stroke="#1c1a1a" stroke-width="4.5" stroke-linecap="butt"/>
<line x1="741.6" y1="811.4" x2="756.3" y2="811.4" stroke="#1c1a1a" stroke-width="2.97" stroke-linecap="butt"/>
<line x1="741.6" y1="897.92" x2="756.3" y2="897.92" stroke="#1c1a1a" stroke-width="2.97" stroke-linecap="butt"/>
<line x1="741.6" y1="984.44" x2="756.3" y2="984.44" stroke="#1c1a1a" stroke-width="2.97" stroke-linecap="butt"/>
<line x1="741.6" y1="1070.96" x2="756.3" y2="1070.96" stroke="#1c1a1a" stroke-width="2.97" stroke-linecap="butt"/>
<line x1="741.6" y1="1157.48" x2="756.3" y2="1157.48" stroke="#1c1a1a" stroke-width="2.97" stroke-linecap="butt"/>
<line x1="741.6" y1="1244" x2="756.3" y2="1244" stroke="#1c1a1a" stroke-width="2.97" stroke-linecap="butt"/>
<line x1="748" y1="854.66" x2="756.3" y2="854.66" stroke="#1c1a1a" stroke-width="2.67" stroke-linecap="butt"/>
<line x1="748" y1="941.18" x2="756.3" y2="941.18" stroke="#1c1a1a" stroke-width="2.67" stroke-linecap="butt"/>
<line x1="748" y1="1027.7" x2="756.3" y2="1027.7" stroke="#1c1a1a" stroke-width="2.67" stroke-linecap="butt"/>
<line x1="748" y1="1114.22" x2="756.3" y2="1114.22" stroke="#1c1a1a" stroke-width="2.67" stroke-linecap="butt"/>
<line x1="748" y1="1200.74" x2="756.3" y2="1200.74" stroke="#1c1a1a" stroke-width="2.67" stroke-linecap="butt"/>
<text x="772.3" y="821.2" font-size="27.4">5</text>
<text x="772.3" y="908.1" font-size="27.4">4</text>
<text x="772.3" y="995" font-size="27.4">3</text>
<text x="772.3" y="1081.9" font-size="27.4">2</text>
<text x="773.1" y="1168.8" font-size="27.4" font-family="NanumGothic, Liberation Sans, sans-serif" stroke="#1c1a1a" stroke-width="0.45">1</text>
<text x="772.3" y="1255.7" font-size="27.4">0</text>
<text x="26" y="1366.6" font-size="29.3" transform="rotate(-90 26 1366.6)" textLength="504.3" lengthAdjust="spacingAndGlyphs">Energy levels (HOMO and LUMO) (eV)</text>
<text x="833.5" y="1146.2" font-size="29.3" transform="rotate(-90 833.5 1146.2)" textLength="255.3" lengthAdjust="spacingAndGlyphs">Exciton energy (eV)</text>
<g fill="none" stroke="#1c1a1a" stroke-width="2">
<ellipse cx="181.32" cy="949.4" rx="8.92" ry="5"/>
<ellipse cx="199.36" cy="949.4" rx="8.92" ry="5"/>
<ellipse cx="217.4" cy="949.4" rx="8.92" ry="5"/>
<ellipse cx="235.44" cy="949.4" rx="8.92" ry="5"/>
<ellipse cx="253.48" cy="949.4" rx="8.92" ry="5"/>
<ellipse cx="271.74" cy="992.3" rx="8.84" ry="4.7"/>
<ellipse cx="289.61" cy="992.3" rx="8.84" ry="4.7"/>
<ellipse cx="307.49" cy="992.3" rx="8.84" ry="4.7"/>
<ellipse cx="325.36" cy="992.3" rx="8.84" ry="4.7"/>
<ellipse cx="519.44" cy="992.6" rx="9.14" ry="4.8"/>
<ellipse cx="537.91" cy="992.6" rx="9.14" ry="4.8"/>
<ellipse cx="556.39" cy="992.6" rx="9.14" ry="4.8"/>
<ellipse cx="574.86" cy="992.6" rx="9.14" ry="4.8"/>
<ellipse cx="593.99" cy="959.5" rx="9.09" ry="4.9"/>
<ellipse cx="612.37" cy="959.5" rx="9.09" ry="4.9"/>
<ellipse cx="630.75" cy="959.5" rx="9.09" ry="4.9"/>
<ellipse cx="649.13" cy="959.5" rx="9.09" ry="4.9"/>
<ellipse cx="667.51" cy="959.5" rx="9.09" ry="4.9"/>
<ellipse cx="181.93" cy="1243.6" rx="9.03" ry="4.7"/>
<ellipse cx="200.2" cy="1243.6" rx="9.03" ry="4.7"/>
<ellipse cx="218.46" cy="1243.6" rx="9.03" ry="4.7"/>
<ellipse cx="236.73" cy="1243.6" rx="9.03" ry="4.7"/>
<ellipse cx="254.99" cy="1243.6" rx="9.03" ry="4.7"/>
<ellipse cx="273.25" cy="1243.6" rx="9.03" ry="4.7"/>
<ellipse cx="291.52" cy="1243.6" rx="9.03" ry="4.7"/>
<ellipse cx="309.78" cy="1243.6" rx="9.03" ry="4.7"/>
<ellipse cx="328.05" cy="1243.6" rx="9.03" ry="4.7"/>
<ellipse cx="346.31" cy="1243.6" rx="9.03" ry="4.7"/>
<ellipse cx="364.58" cy="1243.6" rx="9.03" ry="4.7"/>
<ellipse cx="382.84" cy="1243.6" rx="9.03" ry="4.7"/>
<ellipse cx="401.1" cy="1243.6" rx="9.03" ry="4.7"/>
<ellipse cx="419.37" cy="1243.6" rx="9.03" ry="4.7"/>
<ellipse cx="437.63" cy="1243.6" rx="9.03" ry="4.7"/>
<ellipse cx="455.9" cy="1243.6" rx="9.03" ry="4.7"/>
<ellipse cx="474.16" cy="1243.6" rx="9.03" ry="4.7"/>
<ellipse cx="492.43" cy="1243.6" rx="9.03" ry="4.7"/>
<ellipse cx="510.69" cy="1243.6" rx="9.03" ry="4.7"/>
<ellipse cx="528.95" cy="1243.6" rx="9.03" ry="4.7"/>
<ellipse cx="547.22" cy="1243.6" rx="9.03" ry="4.7"/>
<ellipse cx="565.48" cy="1243.6" rx="9.03" ry="4.7"/>
<ellipse cx="583.75" cy="1243.6" rx="9.03" ry="4.7"/>
<ellipse cx="602.01" cy="1243.6" rx="9.03" ry="4.7"/>
<ellipse cx="620.28" cy="1243.6" rx="9.03" ry="4.7"/>
<ellipse cx="638.54" cy="1243.6" rx="9.03" ry="4.7"/>
<ellipse cx="656.8" cy="1243.6" rx="9.03" ry="4.7"/>
<ellipse cx="675.07" cy="1243.6" rx="9.03" ry="4.7"/>
<path d="M167.7 1001.7H268.1" stroke-width="1.9"/>
<path d="M168.7 1001.4L176.9 992.3L185.1 1001.4L193.3 992.3L201.5 1001.4L209.7 992.3L217.9 1001.4L226.1 992.3L234.3 1001.4L242.5 992.3L250.7 1001.4L258.9 992.3L267.1 1001.4" stroke-width="1.8" stroke-linejoin="miter"/>
<path d="M171.49 998.32L176.9 991.5L182.31 998.32Z" style="fill:#1c1a1a;stroke:none"/>
<path d="M266.1 1020H336.2" stroke-width="1.9"/>
<path d="M267.1 1019.7L275.61 1010.6L284.12 1019.7L292.64 1010.6L301.15 1019.7L309.66 1010.6L318.18 1019.7L326.69 1010.6L335.2 1019.7" stroke-width="1.8" stroke-linejoin="miter"/>
<path d="M348.8 1020H416.3" stroke-width="1.9"/>
<path d="M349.8 1019.7L357.99 1010.6L366.17 1019.7L374.36 1010.6L382.55 1019.7L390.74 1010.6L398.93 1019.7L407.11 1010.6L415.3 1019.7" stroke-width="1.8" stroke-linejoin="miter"/>
<path d="M423.7 1020H490.8" stroke-width="1.9"/>
<path d="M424.7 1019.7L432.84 1010.6L440.98 1019.7L449.11 1010.6L457.25 1019.7L465.39 1010.6L473.52 1019.7L481.66 1010.6L489.8 1019.7" stroke-width="1.8" stroke-linejoin="miter"/>
<path d="M515.1 1021.3H582.2" stroke-width="1.9"/>
<path d="M516.1 1021L524.24 1011.9L532.38 1021L540.51 1011.9L548.65 1021L556.79 1011.9L564.93 1021L573.06 1011.9L581.2 1021" stroke-width="1.8" stroke-linejoin="miter"/>
<path d="M580.2 1011.7H683.1" stroke-width="1.9"/>
<path d="M581.2 1011.4L589.61 1002.3L598.02 1011.4L606.42 1002.3L614.83 1011.4L623.24 1002.3L631.65 1011.4L640.06 1002.3L648.47 1011.4L656.88 1002.3L665.28 1011.4L673.69 1002.3L682.1 1011.4" stroke-width="1.8" stroke-linejoin="miter"/>
<path d="M335.8 1038.6L341.7 1029.2L348.9 1038.6Z" stroke-width="1.8"/>
<path d="M412.4 1070.2L419.2 1060.8L426.6 1070.2Z" stroke-width="1.8"/>
<path d="M490.6 1054.6L497.8 1045.1L505 1054.6Z" stroke-width="1.8"/>
<path d="M276 997.5L279.6 1238M272.26 1226.19L279.6 1238L286.58 1225.98" stroke-width="2.9" stroke-linecap="round" stroke-linejoin="round"/>
<path d="M343.2 1040.4L343.2 1237.4M336.04 1225.49L343.2 1237.4L350.36 1225.49" stroke-width="2.6" stroke-linecap="round" stroke-linejoin="round"/>
<path d="M420.9 1082L420.9 1235.5M413.74 1223.59L420.9 1235.5L428.06 1223.59" stroke-width="2.6" stroke-linecap="round" stroke-linejoin="round"/>
<path d="M499.3 1061.2L499.3 1236.4M492.14 1224.49L499.3 1236.4L506.46 1224.49" stroke-width="2.6" stroke-linecap="round" stroke-linejoin="round"/>
<path d="M567.1 1000.5L567.1 1237.6M559.94 1225.69L567.1 1237.6L574.26 1225.69" stroke-width="2.9" stroke-linecap="round" stroke-linejoin="round"/>
<path d="M262.5 945.4L269.38 945.4C274.51 945.4 277.89 956.55 279.2 985.6M271.58 973.86L279.2 985.6L285.56 973.13" stroke-width="2.6" stroke-linecap="round" stroke-linejoin="round"/>
<path d="M599.4 945.5L578.12 945.5C566.95 945.5 558.84 960.19 557.5 985M551.14 972.53L557.5 985L565.12 973.26" stroke-width="2.6" stroke-linecap="round" stroke-linejoin="round"/>
<path d="M215.4 992.5C225.27 992.8 226.8 992.5 245 993.4C263.2 994.3 255.67 993.67 270 995.2C284.33 996.73 279.33 995.23 288 998C296.67 1000.77 291.83 999.33 296 1003.5C300.17 1007.67 299 1008.17 300.5 1010.5" stroke-width="2.6" stroke-linecap="round" stroke-linejoin="round"/>
<path d="M308.9 1007.2C313.27 1007.47 314.97 1006.73 322 1008C329.03 1009.27 325.17 1007.83 330 1011C334.83 1014.17 332.73 1012.23 336.5 1017.5C340.27 1022.77 339.7 1023.7 341.3 1026.8M331.84 1019.41L341.3 1026.8L342.97 1014.92" stroke-width="2.6" stroke-linecap="round" stroke-linejoin="round"/>
<path d="M647.9 998.7C635.27 999 634.2 998.97 610 999.6C585.8 1000.23 593.3 999.63 575.3 1000.6C557.3 1001.57 566.83 1001.23 556 1002.5C545.17 1003.77 547.2 1003.77 542.8 1004.4" stroke-width="2.6" stroke-linecap="round" stroke-linejoin="round"/>
<path d="M543.5 997.5C543.5 997.5 541 1009.4 541 1009.4C541 1009.4 551 1006.2 551 1006.2" stroke-width="2.6" stroke-linecap="round" stroke-linejoin="round"/>
<path d="M534 1008.7C528.57 1010.13 527.17 1008.23 517.7 1013C508.23 1017.77 511.3 1016.33 505.6 1023C499.9 1029.67 503 1026.17 500.6 1033C498.2 1039.83 499.13 1040 498.4 1043.5M494.12 1031.75L498.4 1043.5L506.43 1033.92" stroke-width="2.6" stroke-linecap="round" stroke-linejoin="round"/>
<path d="M349.5 1034.5C355.9 1035.77 358.13 1034.27 368.7 1038.3C379.27 1042.33 373.57 1040.7 381.2 1046.6C388.83 1052.5 380.5 1051.4 391.6 1056C402.7 1060.6 406.87 1058.93 414.5 1060.4M403.08 1065.48L414.5 1060.4L404.92 1052.37" stroke-width="2.6" stroke-linecap="round" stroke-linejoin="round"/>
<path d="M490.5 1047.7C483.2 1048.73 479.37 1047.7 468.6 1050.8C457.83 1053.9 466.53 1053.53 458.2 1057C449.87 1060.47 454.6 1059.1 443.6 1061.2C432.6 1063.3 431.33 1062.6 425.2 1063.3M435.05 1055.6L425.2 1063.3L436.43 1068.78" stroke-width="2.6" stroke-linecap="round" stroke-linejoin="round"/>
<path d="M290.3 999.4L300.8 1011L304.5 1000L300 1003.5 Z" fill="none" stroke-width="1.8" stroke-linejoin="round"/>
</g>
<text x="142" y="935.4" font-size="28.6">S<tspan x="161.3" dy="8" font-size="18" font-family="NanumGothic, Liberation Sans, sans-serif" stroke="#1c1a1a" stroke-width="0.3">1</tspan></text>
<text x="142.1" y="990.5" font-size="28.6">T<tspan x="161" dy="9.5" font-size="18" font-family="NanumGothic, Liberation Sans, sans-serif" stroke="#1c1a1a" stroke-width="0.3">1</tspan></text>
<text x="147.7" y="1229.7" font-size="28.6">S<tspan x="167.3" dy="8.5" font-size="19">0</tspan></text>
<text x="163.5" y="1106.9" font-size="28.6" textLength="72.2" lengthAdjust="spacingAndGlyphs">TCTA</text>
<text x="616" y="1167.6" font-size="28.6" textLength="62.4" lengthAdjust="spacingAndGlyphs">TPBi</text>
<text transform="translate(298 1069) rotate(90)" font-size="29" textLength="68.2" lengthAdjust="spacingAndGlyphs">Bepp</text>
<text transform="translate(288.8 1138.5) rotate(90)" font-size="20.8">2</text>
<text transform="translate(376.4 1069) rotate(90)" font-size="29" textLength="68.2" lengthAdjust="spacingAndGlyphs">Bepp</text>
<text transform="translate(367.2 1138.5) rotate(90)" font-size="20.8">2</text>
<text transform="translate(447 1069) rotate(90)" font-size="29" textLength="68.2" lengthAdjust="spacingAndGlyphs">Bepp</text>
<text transform="translate(437.8 1138.5) rotate(90)" font-size="20.8">2</text>
<text transform="translate(535 1069) rotate(90)" font-size="29" textLength="68.2" lengthAdjust="spacingAndGlyphs">Bepp</text>
<text transform="translate(525.8 1138.5) rotate(90)" font-size="20.8">2</text>
<rect x="135.2" y="1347.2" width="55.1" height="10.4" fill="#3fb34f"/>
<rect x="135.2" y="1386.1" width="55.1" height="9.6" fill="#e06a15"/>
<rect x="135.2" y="1425.9" width="55.1" height="11.4" fill="#e41217"/>
<text x="205.7" y="1361.7" font-size="28.6" textLength="84.2" lengthAdjust="spacingAndGlyphs">Ir(ppy)</text>
<text x="289.6" y="1368.9" font-size="18.8">3</text>
<text x="205.7" y="1402.5" font-size="28.6" textLength="110.5" lengthAdjust="spacingAndGlyphs">Ir(ffpmq)</text>
<text x="315.7" y="1409.7" font-size="18.8">2</text>
<text x="328" y="1402.5" font-size="28.6" textLength="81.3" lengthAdjust="spacingAndGlyphs">(acac)</text>
<text x="205.7" y="1443.6" font-size="28.6" textLength="76.2" lengthAdjust="spacingAndGlyphs">Ir(piq)</text>
<text x="281.7" y="1450.8" font-size="18.8">2</text>
<text x="293.4" y="1443.6" font-size="28.6" textLength="81.6" lengthAdjust="spacingAndGlyphs">(acac)</text>
<text x="927.2" y="781.8" font-size="38" font-weight="bold" textLength="29.6" lengthAdjust="spacingAndGlyphs">D</text>
<rect x="1260.6" y="993.6" width="10.7" height="330.6" fill="#e06a15" rx="1.3"/>
<rect x="1338.3" y="961.7" width="13.8" height="283.3" fill="#e41217" rx="1.3"/>
<rect x="1422.2" y="912.3" width="10.6" height="374.3" fill="#3fb34f" rx="1.3"/>
<rect x="1276.9" y="891.6" width="59.4" height="432.3" fill="none" stroke="#4468b4" stroke-width="3.5"/>
<rect x="1354.2" y="891.6" width="59.1" height="432.3" fill="none" stroke="#4468b4" stroke-width="3.5"/>
<rect x="1056.4" y="843.2" width="128.6" height="480.7" fill="none" stroke="#1c1a1a" stroke-width="3.6"/>
<rect x="1508" y="905" width="143.5" height="488" fill="none" stroke="#1c1a1a" stroke-width="3.6"/>
<rect x="1187.7" y="891.6" width="67.9" height="432.3" fill="none" stroke="#4468b4" stroke-width="3.5"/>
<rect x="1437.5" y="891.6" width="68.7" height="432.3" fill="none" stroke="#4468b4" stroke-width="3.5"/>
<line x1="1017.7" y1="799.2" x2="1017.7" y2="1446.3" stroke="#1c1a1a" stroke-width="3.7" stroke-linecap="butt"/>
<line x1="1017.7" y1="800.6" x2="1030.3" y2="800.6" stroke="#1c1a1a" stroke-width="2.9" stroke-linecap="butt"/>
<line x1="1017.7" y1="944.1" x2="1030.3" y2="944.1" stroke="#1c1a1a" stroke-width="2.9" stroke-linecap="butt"/>
<line x1="1017.7" y1="1087.4" x2="1030.3" y2="1087.4" stroke="#1c1a1a" stroke-width="2.9" stroke-linecap="butt"/>
<line x1="1017.7" y1="1230.2" x2="1030.3" y2="1230.2" stroke="#1c1a1a" stroke-width="2.9" stroke-linecap="butt"/>
<line x1="1017.7" y1="1373" x2="1030.3" y2="1373" stroke="#1c1a1a" stroke-width="2.9" stroke-linecap="butt"/>
<line x1="1017.7" y1="872.35" x2="1024.7" y2="872.35" stroke="#1c1a1a" stroke-width="2.7" stroke-linecap="butt"/>
<line x1="1017.7" y1="1015.75" x2="1024.7" y2="1015.75" stroke="#1c1a1a" stroke-width="2.7" stroke-linecap="butt"/>
<line x1="1017.7" y1="1158.8" x2="1024.7" y2="1158.8" stroke="#1c1a1a" stroke-width="2.7" stroke-linecap="butt"/>
<line x1="1017.7" y1="1301.6" x2="1024.7" y2="1301.6" stroke="#1c1a1a" stroke-width="2.7" stroke-linecap="butt"/>
<line x1="1017.7" y1="1444.9" x2="1024.7" y2="1444.9" stroke="#1c1a1a" stroke-width="2.8" stroke-linecap="butt"/>
<text x="1001.7" y="810.3" font-size="27.2" text-anchor="end" textLength="30.4" lengthAdjust="spacingAndGlyphs">–2</text>
<text x="1001.7" y="953.8" font-size="27.2" text-anchor="end" textLength="30.4" lengthAdjust="spacingAndGlyphs">–3</text>
<text x="1001.7" y="1097.1" font-size="27.2" text-anchor="end" textLength="30.4" lengthAdjust="spacingAndGlyphs">–4</text>
<text x="1001.7" y="1239.9" font-size="27.2" text-anchor="end" textLength="30.4" lengthAdjust="spacingAndGlyphs">–5</text>
<text x="1001.7" y="1382.7" font-size="27.2" text-anchor="end" textLength="30.4" lengthAdjust="spacingAndGlyphs">–6</text>
<line x1="1690" y1="796.22" x2="1690" y2="1241.08" stroke="#1c1a1a" stroke-width="4.8" stroke-linecap="butt"/>
<line x1="1675.3" y1="797.8" x2="1690" y2="797.8" stroke="#1c1a1a" stroke-width="3.17" stroke-linecap="butt"/>
<line x1="1675.3" y1="886.14" x2="1690" y2="886.14" stroke="#1c1a1a" stroke-width="3.17" stroke-linecap="butt"/>
<line x1="1675.3" y1="974.48" x2="1690" y2="974.48" stroke="#1c1a1a" stroke-width="3.17" stroke-linecap="butt"/>
<line x1="1675.3" y1="1062.82" x2="1690" y2="1062.82" stroke="#1c1a1a" stroke-width="3.17" stroke-linecap="butt"/>
<line x1="1675.3" y1="1151.16" x2="1690" y2="1151.16" stroke="#1c1a1a" stroke-width="3.17" stroke-linecap="butt"/>
<line x1="1675.3" y1="1239.5" x2="1690" y2="1239.5" stroke="#1c1a1a" stroke-width="3.17" stroke-linecap="butt"/>
<line x1="1681.7" y1="841.97" x2="1690" y2="841.97" stroke="#1c1a1a" stroke-width="2.87" stroke-linecap="butt"/>
<line x1="1681.7" y1="930.31" x2="1690" y2="930.31" stroke="#1c1a1a" stroke-width="2.87" stroke-linecap="butt"/>
<line x1="1681.7" y1="1018.65" x2="1690" y2="1018.65" stroke="#1c1a1a" stroke-width="2.87" stroke-linecap="butt"/>
<line x1="1681.7" y1="1106.99" x2="1690" y2="1106.99" stroke="#1c1a1a" stroke-width="2.87" stroke-linecap="butt"/>
<line x1="1681.7" y1="1195.33" x2="1690" y2="1195.33" stroke="#1c1a1a" stroke-width="2.87" stroke-linecap="butt"/>
<text x="1706.8" y="808.3" font-size="27.4">5</text>
<text x="1706.8" y="896.32" font-size="27.4">4</text>
<text x="1706.8" y="984.34" font-size="27.4">3</text>
<text x="1706.8" y="1072.36" font-size="27.4">2</text>
<text x="1707.6" y="1160.38" font-size="27.4" font-family="NanumGothic, Liberation Sans, sans-serif" stroke="#1c1a1a" stroke-width="0.45">1</text>
<text x="1706.8" y="1248.4" font-size="27.4">0</text>
<text x="942.8" y="1365.4" font-size="29.3" transform="rotate(-90 942.8 1365.4)" textLength="504.3" lengthAdjust="spacingAndGlyphs">Energy levels (HOMO and LUMO) (eV)</text>
<text x="1769.2" y="1135" font-size="29.3" transform="rotate(-90 1769.2 1135)" textLength="255.3" lengthAdjust="spacingAndGlyphs">Exciton energy (eV)</text>
<g fill="none" stroke="#1c1a1a" stroke-width="2">
<ellipse cx="1104.05" cy="938.2" rx="9.15" ry="4.9"/>
<ellipse cx="1122.55" cy="938.2" rx="9.15" ry="4.9"/>
<ellipse cx="1141.05" cy="938.2" rx="9.15" ry="4.9"/>
<ellipse cx="1159.55" cy="938.2" rx="9.15" ry="4.9"/>
<ellipse cx="1178.05" cy="938.2" rx="9.15" ry="4.9"/>
<ellipse cx="1195.61" cy="983" rx="9.01" ry="5.1"/>
<ellipse cx="1213.84" cy="983" rx="9.01" ry="5.1"/>
<ellipse cx="1232.06" cy="983" rx="9.01" ry="5.1"/>
<ellipse cx="1250.29" cy="983" rx="9.01" ry="5.1"/>
<ellipse cx="1448.94" cy="982.7" rx="9.14" ry="5"/>
<ellipse cx="1467.41" cy="982.7" rx="9.14" ry="5"/>
<ellipse cx="1485.89" cy="982.7" rx="9.14" ry="5"/>
<ellipse cx="1504.36" cy="982.7" rx="9.14" ry="5"/>
<ellipse cx="1524.19" cy="948.8" rx="9.29" ry="4.9"/>
<ellipse cx="1542.97" cy="948.8" rx="9.29" ry="4.9"/>
<ellipse cx="1561.75" cy="948.8" rx="9.29" ry="4.9"/>
<ellipse cx="1580.53" cy="948.8" rx="9.29" ry="4.9"/>
<ellipse cx="1599.31" cy="948.8" rx="9.29" ry="4.9"/>
<ellipse cx="1103.42" cy="1239.4" rx="9.22" ry="4.7"/>
<ellipse cx="1122.07" cy="1239.4" rx="9.22" ry="4.7"/>
<ellipse cx="1140.72" cy="1239.4" rx="9.22" ry="4.7"/>
<ellipse cx="1159.36" cy="1239.4" rx="9.22" ry="4.7"/>
<ellipse cx="1178.01" cy="1239.4" rx="9.22" ry="4.7"/>
<ellipse cx="1196.66" cy="1239.4" rx="9.22" ry="4.7"/>
<ellipse cx="1215.3" cy="1239.4" rx="9.22" ry="4.7"/>
<ellipse cx="1233.95" cy="1239.4" rx="9.22" ry="4.7"/>
<ellipse cx="1252.59" cy="1239.4" rx="9.22" ry="4.7"/>
<ellipse cx="1271.24" cy="1239.4" rx="9.22" ry="4.7"/>
<ellipse cx="1289.89" cy="1239.4" rx="9.22" ry="4.7"/>
<ellipse cx="1308.53" cy="1239.4" rx="9.22" ry="4.7"/>
<ellipse cx="1327.18" cy="1239.4" rx="9.22" ry="4.7"/>
<ellipse cx="1345.83" cy="1239.4" rx="9.22" ry="4.7"/>
<ellipse cx="1364.47" cy="1239.4" rx="9.22" ry="4.7"/>
<ellipse cx="1383.12" cy="1239.4" rx="9.22" ry="4.7"/>
<ellipse cx="1401.77" cy="1239.4" rx="9.22" ry="4.7"/>
<ellipse cx="1420.41" cy="1239.4" rx="9.22" ry="4.7"/>
<ellipse cx="1439.06" cy="1239.4" rx="9.22" ry="4.7"/>
<ellipse cx="1457.71" cy="1239.4" rx="9.22" ry="4.7"/>
<ellipse cx="1476.35" cy="1239.4" rx="9.22" ry="4.7"/>
<ellipse cx="1495" cy="1239.4" rx="9.22" ry="4.7"/>
<ellipse cx="1513.64" cy="1239.4" rx="9.22" ry="4.7"/>
<ellipse cx="1532.29" cy="1239.4" rx="9.22" ry="4.7"/>
<ellipse cx="1550.94" cy="1239.4" rx="9.22" ry="4.7"/>
<ellipse cx="1569.58" cy="1239.4" rx="9.22" ry="4.7"/>
<ellipse cx="1588.23" cy="1239.4" rx="9.22" ry="4.7"/>
<ellipse cx="1606.88" cy="1239.4" rx="9.22" ry="4.7"/>
<path d="M1089.7 991.2H1192.4" stroke-width="1.9"/>
<path d="M1090.7 990.9L1099.09 981.8L1107.48 990.9L1115.88 981.8L1124.27 990.9L1132.66 981.8L1141.05 990.9L1149.44 981.8L1157.83 990.9L1166.22 981.8L1174.62 990.9L1183.01 981.8L1191.4 990.9" stroke-width="1.8" stroke-linejoin="miter"/>
<path d="M1093.55 987.82L1099.09 981L1104.63 987.82Z" style="fill:#1c1a1a;stroke:none"/>
<path d="M1189.9 1010H1260" stroke-width="1.9"/>
<path d="M1190.9 1009.7L1199.41 1000.6L1207.93 1009.7L1216.44 1000.6L1224.95 1009.7L1233.46 1000.6L1241.97 1009.7L1250.49 1000.6L1259 1009.7" stroke-width="1.8" stroke-linejoin="miter"/>
<path d="M1274.3 1010H1342.6" stroke-width="1.9"/>
<path d="M1275.3 1009.7L1283.59 1000.6L1291.88 1009.7L1300.16 1000.6L1308.45 1009.7L1316.74 1000.6L1325.03 1009.7L1333.31 1000.6L1341.6 1009.7" stroke-width="1.8" stroke-linejoin="miter"/>
<path d="M1350.2 1011.2H1419" stroke-width="1.9"/>
<path d="M1351.2 1010.9L1359.55 1001.8L1367.9 1010.9L1376.25 1001.8L1384.6 1010.9L1392.95 1001.8L1401.3 1010.9L1409.65 1001.8L1418 1010.9" stroke-width="1.8" stroke-linejoin="miter"/>
<path d="M1442.8 1012.5H1512.4" stroke-width="1.9"/>
<path d="M1443.8 1012.2L1452.25 1003.1L1460.7 1012.2L1469.15 1003.1L1477.6 1012.2L1486.05 1003.1L1494.5 1012.2L1502.95 1003.1L1511.4 1012.2" stroke-width="1.8" stroke-linejoin="miter"/>
<path d="M1509.7 1003H1614.3" stroke-width="1.9"/>
<path d="M1510.7 1002.7L1519.25 993.6L1527.8 1002.7L1536.35 993.6L1544.9 1002.7L1553.45 993.6L1562 1002.7L1570.55 993.6L1579.1 1002.7L1587.65 993.6L1596.2 1002.7L1604.75 993.6L1613.3 1002.7" stroke-width="1.8" stroke-linejoin="miter"/>
<path d="M1257.6 1046.4L1264.6 1036.9L1271.9 1046.4Z" stroke-width="1.8"/>
<path d="M1338.5 1062.1L1345.6 1053L1353.2 1062.1Z" stroke-width="1.8"/>
<path d="M1420.2 1030.4L1427.8 1021.1L1435 1030.4Z" stroke-width="1.8"/>
<path d="M1200.6 989L1203.6 1233.2M1196.08 1221.03L1203.6 1233.2L1210.81 1220.85" stroke-width="2.9" stroke-linecap="round" stroke-linejoin="round"/>
<path d="M1266.2 1052.9L1266.2 1232.5M1258.83 1220.24L1266.2 1232.5L1273.57 1220.24" stroke-width="2.6" stroke-linecap="round" stroke-linejoin="round"/>
<path d="M1347.6 1073.7L1347.6 1231.3M1340.23 1219.04L1347.6 1231.3L1354.97 1219.04" stroke-width="2.6" stroke-linecap="round" stroke-linejoin="round"/>
<path d="M1429 1032L1429 1234M1421.63 1221.74L1429 1234L1436.37 1221.74" stroke-width="2.6" stroke-linecap="round" stroke-linejoin="round"/>
<path d="M1496.3 990.2L1496.3 1232.8M1488.93 1220.54L1496.3 1232.8L1503.67 1220.54" stroke-width="2.9" stroke-linecap="round" stroke-linejoin="round"/>
<path d="M1187.3 934.9L1193.97 934.9C1198.95 934.9 1202.23 946.19 1203.5 975.6M1195.88 963.86L1203.5 975.6L1209.86 963.13" stroke-width="2.6" stroke-linecap="round" stroke-linejoin="round"/>
<path d="M1531.1 934.9L1508.19 934.9C1496.17 934.9 1487.44 950.03 1486 975.6M1479.64 963.13L1486 975.6L1493.62 963.86" stroke-width="2.6" stroke-linecap="round" stroke-linejoin="round"/>
<path d="M1136.7 982.9C1146.13 983.2 1146.57 982.9 1165 983.8C1183.43 984.7 1176.83 984.13 1192 985.6C1207.17 987.07 1201.33 985.4 1210.5 988.2C1219.67 991 1214.9 989.5 1219.5 994C1224.1 998.5 1222.7 999.13 1224.3 1001.7" stroke-width="2.6" stroke-linecap="round" stroke-linejoin="round"/>
<path d="M1233.5 995C1239 995.13 1241.83 993.57 1250 995.4C1258.17 997.23 1254.07 994.97 1258 1000.5C1261.93 1006.03 1259.8 1001.83 1261.8 1012C1263.8 1022.17 1263.27 1024.67 1264 1031M1257.01 1020.64L1264 1031L1269.48 1019.77" stroke-width="2.6" stroke-linecap="round" stroke-linejoin="round"/>
<path d="M1577.9 989.2C1565.27 989.4 1563.53 989.33 1540 989.8C1516.47 990.27 1524.97 989.73 1507.3 990.6C1489.63 991.47 1498.7 991.13 1487 992.4C1475.3 993.67 1477.13 993.73 1472.2 994.4" stroke-width="2.6" stroke-linecap="round" stroke-linejoin="round"/>
<path d="M1473 987.5C1473 987.5 1470.3 999.6 1470.3 999.6C1470.3 999.6 1480.5 996.4 1480.5 996.4" stroke-width="2.6" stroke-linecap="round" stroke-linejoin="round"/>
<path d="M1462.5 993.8C1457.33 995.37 1455.5 994.77 1447 998.5C1438.5 1002.23 1442.17 1000.5 1437 1005C1431.83 1009.5 1434.37 1007.17 1431.5 1012C1428.63 1016.83 1429.43 1017 1428.4 1019.5M1425.91 1007.76L1428.4 1019.5L1437.32 1011.47" stroke-width="2.6" stroke-linecap="round" stroke-linejoin="round"/>
<path d="M1274.1 1041.4C1281.03 1041.9 1282.4 1039.97 1294.9 1042.9C1307.4 1045.83 1301.87 1046.63 1311.6 1050.2C1321.33 1053.77 1314.73 1051.73 1324.1 1053.6C1333.47 1055.47 1334.5 1055.07 1339.7 1055.8M1328.47 1061.28L1339.7 1055.8L1329.85 1048.1" stroke-width="2.6" stroke-linecap="round" stroke-linejoin="round"/>
<path d="M1423 1024.1C1415.7 1025.17 1412.57 1023.13 1401.1 1027.3C1389.63 1031.47 1396.23 1030.37 1388.6 1036.6C1380.97 1042.83 1390 1040.33 1378.2 1046C1366.4 1051.67 1361.53 1051.07 1353.2 1053.6M1362.19 1044.92L1353.2 1053.6L1364.95 1057.88" stroke-width="2.6" stroke-linecap="round" stroke-linejoin="round"/>
<path d="M1214 989.5L1224.6 1002.2L1228.5 990.5L1224 994 Z" fill="none" stroke-width="1.8" stroke-linejoin="round"/>
</g>
<text x="1059" y="923.3" font-size="28.6">S<tspan x="1078.3" dy="8.3" font-size="18" font-family="NanumGothic, Liberation Sans, sans-serif" stroke="#1c1a1a" stroke-width="0.3">1</tspan></text>
<text x="1058.4" y="977.9" font-size="28.6">T<tspan x="1077.3" dy="9.8" font-size="18" font-family="NanumGothic, Liberation Sans, sans-serif" stroke="#1c1a1a" stroke-width="0.3">1</tspan></text>
<text x="1065.2" y="1217.7" font-size="28.6">S<tspan x="1084.8" dy="9" font-size="19">0</tspan></text>
<text x="1081" y="1095.1" font-size="28.6" textLength="70.8" lengthAdjust="spacingAndGlyphs">TCTA</text>
<text x="1545.6" y="1162.6" font-size="28.6" textLength="62.4" lengthAdjust="spacingAndGlyphs">TPBi</text>
<text transform="translate(1222.2 1057.1) rotate(90)" font-size="29" textLength="68.2" lengthAdjust="spacingAndGlyphs">Bepp</text>
<text transform="translate(1213 1126.6) rotate(90)" font-size="20.8">2</text>
<text transform="translate(1299.9 1057.1) rotate(90)" font-size="29" textLength="68.2" lengthAdjust="spacingAndGlyphs">Bepp</text>
<text transform="translate(1290.7 1126.6) rotate(90)" font-size="20.8">2</text>
<text transform="translate(1371.1 1057.1) rotate(90)" font-size="29" textLength="68.2" lengthAdjust="spacingAndGlyphs">Bepp</text>
<text transform="translate(1361.9 1126.6) rotate(90)" font-size="20.8">2</text>
<text transform="translate(1458.5 1057.1) rotate(90)" font-size="29" textLength="68.2" lengthAdjust="spacingAndGlyphs">Bepp</text>
<text transform="translate(1449.3 1126.6) rotate(90)" font-size="20.8">2</text>
<rect x="1056.5" y="1345.2" width="55.6" height="10.4" fill="#3fb34f"/>
<rect x="1056.5" y="1385.5" width="55.6" height="9.6" fill="#e06a15"/>
<rect x="1056.5" y="1425.3" width="55.6" height="11.4" fill="#e41217"/>
<text x="1126.2" y="1360.5" font-size="28.6" textLength="84.2" lengthAdjust="spacingAndGlyphs">Ir(ppy)</text>
<text x="1210.1" y="1367.7" font-size="18.8">3</text>
<text x="1126.2" y="1401" font-size="28.6" textLength="110.5" lengthAdjust="spacingAndGlyphs">Ir(ffpmq)</text>
<text x="1236.2" y="1408.2" font-size="18.8">2</text>
<text x="1248.5" y="1401" font-size="28.6" textLength="81.3" lengthAdjust="spacingAndGlyphs">(acac)</text>
<text x="1126.2" y="1443.1" font-size="28.6" textLength="76.2" lengthAdjust="spacingAndGlyphs">Ir(piq)</text>
<text x="1202.2" y="1450.3" font-size="18.8">2</text>
<text x="1213.9" y="1443.1" font-size="28.6" textLength="81.6" lengthAdjust="spacingAndGlyphs">(acac)</text>
</g>
</svg>
</body></html>
